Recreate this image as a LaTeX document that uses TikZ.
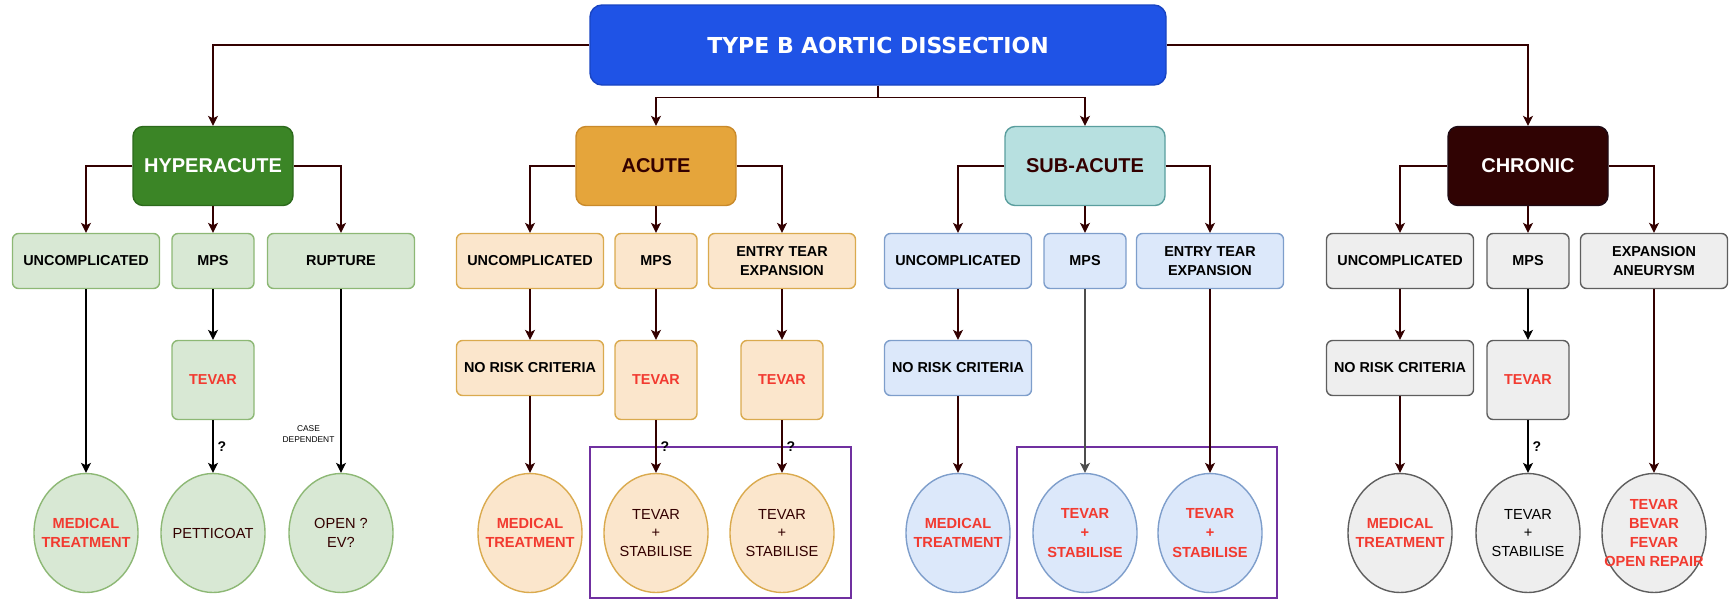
\documentclass[tikz,border=0pt]{standalone}
\usepackage{fontspec}
\setmainfont{Liberation Sans}
\newfontfamily\titlefont{DejaVu Sans}
\usetikzlibrary{arrows.meta,shapes.geometric}

\definecolor{rootfill}{HTML}{1F53E6}
\definecolor{rootline}{HTML}{1844C2}
\definecolor{hypfill}{HTML}{3B8526}
\definecolor{hypline}{HTML}{2C6A1C}
\definecolor{acufill}{HTML}{E5A53B}
\definecolor{aculine}{HTML}{C98A2B}
\definecolor{subfill}{HTML}{B7E0E0}
\definecolor{subline}{HTML}{5A9E9E}
\definecolor{chrfill}{HTML}{300303}
\definecolor{chrline}{HTML}{1E0A14}
\definecolor{grnfill}{HTML}{D8E8D4}
\definecolor{grnline}{HTML}{8DB875}
\definecolor{orgfill}{HTML}{FBE6CC}
\definecolor{orgline}{HTML}{DAAA4E}
\definecolor{blufill}{HTML}{DCE8FA}
\definecolor{bluline}{HTML}{7E9ECB}
\definecolor{gryfill}{HTML}{EEEEEE}
\definecolor{gryline}{HTML}{5E5E5E}
\definecolor{linkbrown}{HTML}{330000}
\definecolor{linkgray}{HTML}{4D4D4D}
\definecolor{redtxt}{HTML}{F23A30}
\definecolor{browntxt}{HTML}{330000}
\definecolor{grpline}{HTML}{7030A0}

\tikzstyle{cellbox} = [rectangle, rounded corners=3pt, line width=0.7pt, align=center, inner sep=2pt, font=\bfseries\fontsize{7.2}{9.6}\selectfont]
\tikzstyle{rootbox} = [cellbox, rounded corners=6pt, minimum width=288pt, minimum height=40pt, fill=rootfill, draw=rootline, text=white, font=\titlefont\bfseries\fontsize{11}{13}\selectfont]
\tikzstyle{phasebox} = [cellbox, rounded corners=5pt, minimum width=80pt, minimum height=39.5pt, font=\bfseries\fontsize{10}{12}\selectfont]
\tikzstyle{widebox} = [cellbox, minimum width=73.5pt, minimum height=27.5pt]
\tikzstyle{narrowbox} = [cellbox, minimum width=41pt, minimum height=27.5pt]
\tikzstyle{tallbox} = [cellbox, minimum width=41pt, minimum height=39.5pt, text=redtxt]
\tikzstyle{outcome} = [ellipse, line width=0.7pt, inner sep=0pt, minimum width=52pt, minimum height=59.5pt]
\tikzstyle{redbold} = [align=center, text=redtxt, font=\bfseries\fontsize{7.3}{9.6}\selectfont]
\tikzstyle{darktext} = [align=center, text=browntxt, font=\fontsize{7.3}{9.2}\selectfont]
\tikzstyle{grn} = [fill=grnfill, draw=grnline]
\tikzstyle{org} = [fill=orgfill, draw=orgline]
\tikzstyle{blu} = [fill=blufill, draw=bluline]
\tikzstyle{gry} = [fill=gryfill, draw=gryline]
\tikzstyle{link} = [draw=linkbrown, line width=0.6pt, -{Stealth[length=5pt,width=5pt,inset=1.3pt]}]
\tikzstyle{blink} = [link, draw=black]
\tikzstyle{qmark} = [right, inner sep=2pt, font=\bfseries\fontsize{7}{8}\selectfont]
\tikzstyle{grp} = [draw=grpline, line width=1.2pt]

\begin{document}
\begin{tikzpicture}[x=0.5pt,y=-0.5pt]
    \useasboundingbox (0,0) rectangle (1729,600);

    \node [rootbox] (root) at (878,45) {TYPE B AORTIC DISSECTION};

    \node [phasebox, fill=hypfill, draw=hypline, text=white] (hyp) at (213,166) {HYPERACUTE};
    \node [phasebox, fill=acufill, draw=aculine, text=browntxt] (acu) at (656,166) {ACUTE};
    \node [phasebox, fill=subfill, draw=subline, text=browntxt] (sub) at (1085,166) {SUB-ACUTE};
    \node [phasebox, fill=chrfill, draw=chrline, text=white] (chr) at (1528,166) {CHRONIC};

    \node [widebox, grn] (hunc) at (86,261) {UNCOMPLICATED};
    \node [narrowbox, grn] (hmps) at (213,261) {MPS};
    \node [widebox, grn] (hrup) at (341,261) {RUPTURE};
    \node [widebox, org] (aunc) at (530,261) {UNCOMPLICATED};
    \node [narrowbox, org] (amps) at (656,261) {MPS};
    \node [widebox, org] (aent) at (782,261) {ENTRY TEAR\\EXPANSION};
    \node [widebox, blu] (sunc) at (958,261) {UNCOMPLICATED};
    \node [narrowbox, blu] (smps) at (1085,261) {MPS};
    \node [widebox, blu] (sent) at (1210,261) {ENTRY TEAR\\EXPANSION};
    \node [widebox, gry] (cunc) at (1400,261) {UNCOMPLICATED};
    \node [narrowbox, gry] (cmps) at (1528,261) {MPS};
    \node [widebox, gry] (cexp) at (1654,261) {EXPANSION\\ANEURYSM};

    \node [tallbox, grn] (htev) at (213,380) {TEVAR};
    \node [widebox, org] (arisk) at (530,368) {NO RISK CRITERIA};
    \node [tallbox, org] (atev1) at (656,380) {TEVAR};
    \node [tallbox, org] (atev2) at (782,380) {TEVAR};
    \node [widebox, blu] (srisk) at (958,368) {NO RISK CRITERIA};
    \node [widebox, gry] (crisk) at (1400,368) {NO RISK CRITERIA};
    \node [tallbox, gry] (ctev) at (1528,380) {TEVAR};

    \draw [grp] (590,447) rectangle (851,598);
    \draw [grp] (1017,447) rectangle (1277,598);

    \node [outcome, grn, label={[redbold]center:MEDICAL\\TREATMENT}] (hmed) at (86,533) {};
    \node [outcome, grn, label={[darktext]center:PETTICOAT}] (hpet) at (213,533) {};
    \node [outcome, grn, label={[darktext]center:OPEN ?\\EV?}] (hopen) at (341,533) {};
    \node [outcome, org, label={[redbold]center:MEDICAL\\TREATMENT}] (amed) at (530,533) {};
    \node [outcome, org, label={[darktext]center:TEVAR\\+\\STABILISE}] (astab1) at (656,533) {};
    \node [outcome, org, label={[darktext]center:TEVAR\\+\\STABILISE}] (astab2) at (782,533) {};
    \node [outcome, blu, label={[redbold]center:MEDICAL\\TREATMENT}] (smed) at (958,533) {};
    \node [outcome, blu, label={[redbold]center:TEVAR\\+\\STABILISE}] (sstab1) at (1085,533) {};
    \node [outcome, blu, label={[redbold]center:TEVAR\\+\\STABILISE}] (sstab2) at (1210,533) {};
    \node [outcome, gry, label={[redbold]center:MEDICAL\\TREATMENT}] (cmed) at (1400,533) {};
    \node [outcome, gry, label={[darktext, text=black]center:TEVAR\\+\\STABILISE}] (cstab) at (1528,533) {};
    \node [outcome, gry, label={[redbold]center:TEVAR\\BEVAR\\FEVAR\\OPEN REPAIR}] (crep) at (1654,533) {};

    \draw [link] (root.west) -| (hyp.north);
    \draw [link] (root.east) -| (chr.north);
    \draw [link] (root.south) -- ++(0,12) -| (acu.north);
    \draw [link] (root.south) -- ++(0,12) -| (sub.north);

    \draw [link] (hyp.west) -| (hunc.north);
    \draw [link] (hyp.south) -- (hmps.north);
    \draw [link] (hyp.east) -| (hrup.north);
    \draw [link] (acu.west) -| (aunc.north);
    \draw [link] (acu.south) -- (amps.north);
    \draw [link] (acu.east) -| (aent.north);
    \draw [link] (sub.west) -| (sunc.north);
    \draw [link] (sub.south) -- (smps.north);
    \draw [link] (sub.east) -| (sent.north);
    \draw [link] (chr.west) -| (cunc.north);
    \draw [link] (chr.south) -- (cmps.north);
    \draw [link] (chr.east) -| (cexp.north);

    \draw [blink] (hunc.south) -- (hmed.north);
    \draw [blink] (hmps.south) -- (htev.north);
    \draw [blink] (htev.south) -- node [qmark] {?} (hpet.north);
    \draw [blink] (hrup.south) -- node [pos=0.79, left, inner sep=3pt, align=center, font=\fontsize{4.2}{5.2}\selectfont] {CASE\\DEPENDENT} (hopen.north);

    \draw [link] (aunc.south) -- (arisk.north);
    \draw [link] (arisk.south) -- (amed.north);
    \draw [link] (amps.south) -- (atev1.north);
    \draw [link] (atev1.south) -- node [qmark] {?} (astab1.north);
    \draw [link] (aent.south) -- (atev2.north);
    \draw [link] (atev2.south) -- node [qmark] {?} (astab2.north);

    \draw [link] (sunc.south) -- (srisk.north);
    \draw [link] (srisk.south) -- (smed.north);
    \draw [link, draw=linkgray] (smps.south) -- (sstab1.north);
    \draw [link] (sent.south) -- (sstab2.north);

    \draw [link] (cunc.south) -- (crisk.north);
    \draw [link] (crisk.south) -- (cmed.north);
    \draw [blink] (cmps.south) -- (ctev.north);
    \draw [blink] (ctev.south) -- node [qmark] {?} (cstab.north);
    \draw [link] (cexp.south) -- (crep.north);
\end{tikzpicture}
\end{document}
